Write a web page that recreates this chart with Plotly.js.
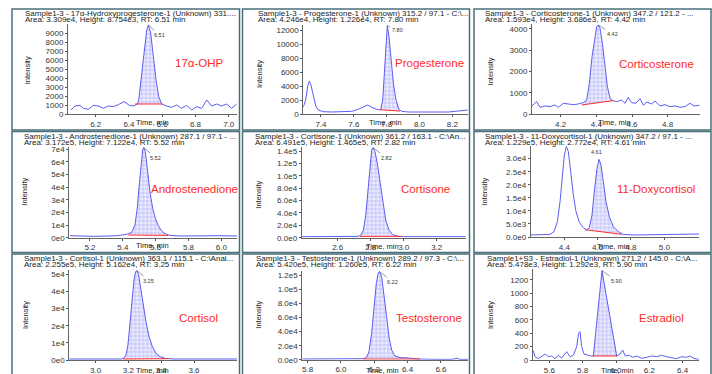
<!DOCTYPE html>
<html><head><meta charset="utf-8">
<script src="https://cdn.plot.ly/plotly-3.0.1.min.js"></script>
<style>html,body{margin:0;padding:0;background:#fff}#chart{width:712px;height:374px}</style>
</head><body><div id="chart"></div>
<script>
// ---------- DATA ----------
const ohpX = [6.050,6.076,6.106,6.126,6.156,6.186,6.216,6.246,6.276,6.306,6.336,6.370,6.403,6.427,6.451,6.459,6.477,6.493,6.507,6.517,6.531,6.547,6.563,6.579,6.597,6.627,6.657,6.687,6.717,6.747,6.777,6.808,6.838,6.868,6.898,6.928,6.958,6.988,7.018,7.048];
const ohpY = [444,890,963,630,520,963,890,630,890,815,1037,1370,963,890,1110,1556,4519,7481,9333,9889,8963,6370,3778,1926,1111,889,741,1000,630,963,444,815,630,1556,889,1111,889,1111,630,1111];
const ohpBase = [6.437,1111,6.601,1111];

const progX = [7.292,7.307,7.319,7.329,7.339,7.353,7.368,7.384,7.414,7.465,7.526,7.587,7.627,7.658,7.684,7.709,7.739,7.763,7.776,7.786,7.796,7.804,7.814,7.826,7.841,7.857,7.875,7.891,7.932,8.013,8.094,8.176,8.237,8.277,8.293];
const progY = [960,2016,3936,4752,4176,2496,1152,576,336,288,288,384,672,1056,1296,960,672,576,2016,5856,10176,12720,11136,7776,4416,2016,672,384,288,288,240,288,432,576,576];
const progBase = [7.760,620,7.881,420];

const corticoX = [4.039,4.065,4.084,4.112,4.140,4.168,4.187,4.215,4.243,4.271,4.299,4.327,4.346,4.361,4.376,4.391,4.402,4.411,4.421,4.434,4.449,4.462,4.477,4.492,4.514,4.542,4.561,4.579,4.598,4.622,4.645,4.664,4.682,4.710,4.729,4.757,4.785,4.813,4.841,4.869,4.897,4.925,4.948,4.978];
const corticoY = [391,594,328,391,359,438,328,516,484,453,484,547,672,1453,2703,3641,4109,4188,4031,3328,2234,1297,750,641,594,672,516,797,547,516,734,422,578,484,625,391,453,359,391,328,359,516,391,422];
const corticoBase = [4.318,438,4.495,641];

const androX = [5.078,5.139,5.220,5.302,5.362,5.423,5.454,5.474,5.488,5.500,5.511,5.521,5.527,5.537,5.549,5.565,5.582,5.598,5.616,5.637,5.657,5.687,5.748,5.829,5.911,5.992,6.095];
const androY = [1584,1320,1056,1320,1584,2640,4224,10032,23232,41712,60192,69432,71280,68112,54912,36432,23232,15312,9504,5280,3168,1848,1320,1584,1320,1584,1320];
const androBase = [5.433,2112,5.677,1848];

const cortisoneX = [2.382,2.483,2.584,2.685,2.725,2.741,2.756,2.770,2.782,2.794,2.806,2.814,2.826,2.840,2.857,2.873,2.891,2.911,2.931,2.958,2.988,3.089,3.190,3.291,3.376];
const cortisoneY = [1615,1615,1615,1615,2154,4308,12386,36618,74313,117393,141626,145395,138934,120086,87776,55466,28541,12386,5385,2693,1615,1615,1615,1077,1615];
const cortisoneBase = [2.735,2154,2.988,2154];

const deoxyX = [4.198,4.274,4.314,4.338,4.358,4.374,4.388,4.400,4.412,4.424,4.438,4.454,4.470,4.490,4.514,4.534,4.550,4.566,4.582,4.596,4.608,4.620,4.634,4.650,4.670,4.694,4.724,4.754,4.814,4.934,5.074,5.210];
const deoxyY = [766,766,1021,2042,5870,13526,23734,31390,34580,32666,25010,16078,9698,5614,3573,2680,3573,8422,18630,26286,29731,27562,21182,13526,7784,3956,2042,1021,766,766,1021,1148];
const deoxyBase = [4.524,2807,4.744,1021];

const cortisolX = [2.839,2.925,3.006,3.067,3.118,3.159,3.173,3.185,3.197,3.209,3.222,3.234,3.244,3.252,3.262,3.275,3.291,3.307,3.325,3.346,3.368,3.393,3.423,3.474,3.555,3.677,3.759,3.862];
const cortisolY = [584,584,389,778,584,584,1167,2918,8753,21395,35010,46680,51543,52126,49598,42790,32093,22368,14004,7780,3890,1945,973,584,584,389,584,584];
const cortisolBase = [3.169,584,3.444,778];

const testoX = [5.768,5.864,5.964,6.064,6.134,6.154,6.168,6.184,6.198,6.212,6.224,6.232,6.244,6.258,6.274,6.288,6.304,6.324,6.354,6.384,6.424,6.464,6.564,6.664,6.700,6.714,6.764];
const testoY = [952,952,952,952,1428,3332,11424,37604,75684,109004,124236,125664,118524,94724,61404,32844,13804,5236,2856,2856,1904,952,476,476,1904,476,476];
const testoBase = [6.134,952,6.474,952];

const e2X = [5.504,5.514,5.534,5.554,5.574,5.594,5.614,5.634,5.654,5.674,5.704,5.724,5.744,5.764,5.776,5.784,5.794,5.808,5.828,5.848,5.864,5.916,6.004,6.024,6.040,6.056,6.080,6.100,6.124,6.154,6.184,6.214,6.244,6.274,6.304,6.334,6.364,6.394,6.424,6.444,6.468,6.496];
const e2Y = [140,50,20,50,90,50,60,20,70,30,125,50,70,200,400,425,200,90,75,60,60,1340,60,90,150,60,70,40,60,25,40,60,50,70,50,40,20,50,40,60,25,10];
const e2Base = [5.860,60,6.008,60];

const names = ["17α-OHP","Progesterone","Corticosterone","Androstenedione","Cortisone","11-Doxycortisol","Cortisol","Testosterone","Estradiol"];
const headerLine1 = [
  "Sample1-3 - 17α-Hydroxyprogesterone-1 (Unknown) 331....",
  "Sample1-3 - Progesterone-1 (Unknown) 315.2 / 97.1 - C:\\...",
  "Sample1-3 - Corticosterone-1 (Unknown) 347.2 / 121.2 - ...",
  "Sample1-3 - Androstenedione-1 (Unknown) 287.1 / 97.1 - ...",
  "Sample1-3 - Cortisone-1 (Unknown) 361.2 / 163.1 - C:\\An...",
  "Sample1-3 - 11-Doxycortisol-1 (Unknown) 347.2 / 97.1 - ...",
  "Sample1-3 - Cortisol-1 (Unknown) 363.1 / 115.1 - C:\\Anal...",
  "Sample1-3 - Testosterone-1 (Unknown) 289.2 / 97.3 - C:\\...",
  "Sample1+S3 - Estradiol-1 (Unknown) 271.2 / 145.0 - C:\\A..."
];
const headerLine2 = [
  "Area: 3.309e4, Height: 8.754e3, RT: 6.51 min",
  "Area: 4.246e4, Height: 1.226e4, RT: 7.80 min",
  "Area: 1.593e4, Height: 3.686e3, RT: 4.42 min",
  "Area: 3.172e5, Height: 7.122e4, RT: 5.52 min",
  "Area: 6.491e5, Height: 1.465e5, RT: 2.82 min",
  "Area: 1.229e5, Height: 2.772e4, RT: 4.61 min",
  "Area: 2.255e5, Height: 5.162e4, RT: 3.25 min",
  "Area: 5.420e5, Height: 1.260e5, RT: 6.22 min",
  "Area: 5.478e3, Height: 1.292e3, RT: 5.90 min"
];
const rtLabels = ["6.51","7.80","4.42","5.52","2.82","4.61","3.25","6.22","5.90"];
const xTickVals = [
  [6.2,6.4,6.6,6.8,7.0],[7.4,7.6,7.8,8.0,8.2],[4.2,4.4,4.6,4.8],
  [5.2,5.4,5.6,5.8,6.0],[2.6,2.8,3.0,3.2],[4.4,4.6,4.8,5.0],
  [3.0,3.2,3.4,3.6],[5.8,6.0,6.2,6.4,6.6],[5.6,5.8,6.0,6.2,6.4]
];
const yTickVals = [
  [0,1000,2000,3000,4000,5000,6000,7000,8000,9000],
  [0,2000,4000,6000,8000,10000,12000],
  [0,1000,2000,3000,4000],
  [0,1e4,2e4,3e4,4e4,5e4,6e4,7e4],
  [0,2e4,4e4,6e4,8e4,1e5,1.2e5,1.4e5],
  [0,5e3,1e4,1.5e4,2e4,2.5e4,3e4],
  [0,1e4,2e4,3e4,4e4,5e4],
  [0,2e4,4e4,6e4,8e4,1e5,1.2e5],
  [0,200,400,600,800,1000,1200]
];
const yTickText = [
  ["0","1000","2000","3000","4000","5000","6000","7000","8000","9000"],
  ["0","2000","4000","6000","8000","10000","12000"],
  ["0","1000","2000","3000","4000"],
  ["0e0","1e4","2e4","3e4","4e4","5e4","6e4","7e4"],
  ["0.0e0","2.0e4","4.0e4","6.0e4","8.0e4","1.0e5","1.2e5","1.4e5"],
  ["0.0e0","5.0e3","1.0e4","1.5e4","2.0e4","2.5e4","3.0e4"],
  ["0e0","1e4","2e4","3e4","4e4","5e4"],
  ["0.0e0","2.0e4","4.0e4","6.0e4","8.0e4","1.0e5","1.2e5"],
  ["0","200","400","600","800","1000","1200"]
];
const seriesX = [ohpX,progX,corticoX,androX,cortisoneX,deoxyX,cortisolX,testoX,e2X];
const seriesY = [ohpY,progY,corticoY,androY,cortisoneY,deoxyY,cortisolY,testoY,e2Y];
const baselines = [ohpBase,progBase,corticoBase,androBase,cortisoneBase,deoxyBase,cortisolBase,testoBase,e2Base];

// ---------- LAYOUT GEOMETRY (pixels) ----------
const W = 712, H = 374;
const G = [
 {plot:[68,237,24,114], xr:[6.0334,7.050], ytop:10000, box:[12,239.5,9,130], hd:[23,13.5], it:[28.3,70], tm:[152,122.7], nm:[199.5,63], rt:[11,10]},
 {plot:[303.3,467.7,25,114], xr:[7.2924,8.2934], ytop:12816, box:[242.5,469.5,9,130], hd:[255.5,13.5], it:[259,74], tm:[385,122.7], nm:[429.5,63], rt:[10,4]},
 {plot:[532,700,24,114.3], xr:[4.0393,4.9813], ytop:4234, box:[474,711,9,130], hd:[483.3,13.5], it:[490.7,71.7], tm:[614,122.7], nm:[656.7,64], rt:[14,9]},
 {plot:[69.3,237,147,237.7], xr:[5.0741,6.0954], ytop:71808, box:[12,239.5,131.5,252.5], hd:[21.7,136], it:[25,191.7], tm:[152,245.7], nm:[194.3,189], rt:[12,10]},
 {plot:[301.7,465.7,147,237.7], xr:[2.3818,3.3758], ytop:146472, box:[242.5,469.5,131.5,252.5], hd:[253.3,136], it:[257.7,195], tm:[383,246.5], nm:[425.3,189], rt:[13,10]},
 {plot:[530.7,699.3,145.7,237], xr:[4.198,5.21], ytop:34962, box:[474,711,131.5,252.5], hd:[483.3,136], it:[485,191.7], tm:[613.7,246.5], nm:[656,189], rt:[-3,-7]},
 {plot:[69.3,237,270,360], xr:[2.8393,3.8623], ytop:52515, box:[12,239.5,254,378], hd:[21.7,258.5], it:[25,315], tm:[152.5,370.7], nm:[198,318], rt:[12,10]},
 {plot:[302.3,468.3,271,359.7], xr:[5.768,6.764], ytop:126616, box:[242.5,469.5,254,378], hd:[254.3,258.5], it:[257.7,315], tm:[383,370.7], nm:[429,318], rt:[13,10]},
 {plot:[532.7,699.3,269.3,360], xr:[5.5,6.5], ytop:1360, box:[474,711,254,378], hd:[485,258.5], it:[490,315], tm:[617.8,370.7], nm:[661,318], rt:[14,10]}
];
const px = v => v / W, py = v => 1 - v / H;
const FONT = "Liberation Sans, Arial, sans-serif";
const BLUE = "#5c5cf2", RED = "#ff2a2a";

const traces = [], annotations = [], shapes = [];
const layout = {
  width: W, height: H, margin: {l:0,r:0,t:0,b:0},
  paper_bgcolor: "#fff", plot_bgcolor: "#fff", showlegend: false,
  font: {family: FONT, color: "#333"}
};

G.forEach((g, i) => {
  const n = i + 1, sx = n === 1 ? "" : String(n);
  const xa = "x" + sx, ya = "y" + sx;
  const X = seriesX[i], Y = seriesY[i], b = baselines[i];

  // integrated peak polygon (from data points between baseline ends)
  const fx = [b[0]], fy = [b[1]];
  let apexI = -1;
  X.forEach((v, k) => {
    if (v > b[0] && v < b[2]) {
      fx.push(v); fy.push(Y[k]);
      if (apexI < 0 || Y[k] > Y[apexI]) apexI = k;
    }
  });
  fx.push(b[2]); fy.push(b[3]);
  traces.push({x: fx, y: fy, xaxis: xa, yaxis: ya, type: "scatter", mode: "lines",
    fill: "toself", line: {width: 0}, fillcolor: "rgba(215,215,250,0.9)",
    fillpattern: {shape: "+", size: 4, solidity: 0.2, fgcolor: "#9797f6", bgcolor: "#ececfe"},
    hoverinfo: "skip"});
  traces.push({x: X, y: Y, xaxis: xa, yaxis: ya, type: "scatter", mode: "lines",
    line: {color: BLUE, width: 1}, hoverinfo: "skip"});
  traces.push({x: [b[0], b[2]], y: [b[1], b[3]], xaxis: xa, yaxis: ya, type: "scatter",
    mode: "lines", line: {color: RED, width: 1}, hoverinfo: "skip"});

  const axCommon = {showgrid: false, zeroline: false, showline: true, linecolor: "#666", linewidth: 1,
    ticks: "outside", ticklen: 2, tickwidth: 1, tickcolor: "#555",
    tickfont: {family: FONT, size: 8, color: "#333"}, fixedrange: true};
  layout["xaxis" + sx] = Object.assign({}, axCommon, {
    domain: [px(g.plot[0]), px(g.plot[1])], range: g.xr, anchor: ya,
    tickmode: "array", tickvals: xTickVals[i], ticktext: xTickVals[i].map(v => v.toFixed(1))});
  layout["yaxis" + sx] = Object.assign({}, axCommon, {
    domain: [py(g.plot[3]), py(g.plot[2])], range: [0, g.ytop], anchor: xa,
    tickmode: "array", tickvals: yTickVals[i], ticktext: yTickText[i]});

  shapes.push({type: "rect", xref: "paper", yref: "paper",
    x0: px(g.box[0]), x1: px(g.box[1]), y0: py(g.box[3]), y1: py(g.box[2]),
    line: {color: "#4a6f7b", width: 1.5}, layer: "above"});

  // header lines (tightly stacked, as in the reference)
  annotations.push({xref: "paper", yref: "paper", x: px(g.hd[0]), y: py(g.hd[1] + 6.3),
    xanchor: "left", yanchor: "middle", text: headerLine2[i], showarrow: false,
    font: {family: FONT, size: 8, color: "#222"}});
  annotations.push({xref: "paper", yref: "paper", x: px(g.hd[0]), y: py(g.hd[1]),
    xanchor: "left", yanchor: "middle", text: headerLine1[i], showarrow: false,
    font: {family: FONT, size: 8, color: "#222"}});
  // axis titles
  annotations.push({xref: "paper", yref: "paper", x: px(g.it[0]), y: py(g.it[1]),
    xanchor: "center", yanchor: "middle", text: "Intensity", textangle: -90, showarrow: false,
    font: {family: FONT, size: 7.5, color: "#222"}});
  annotations.push({xref: "paper", yref: "paper", x: px(g.tm[0]), y: py(g.tm[1]),
    xanchor: "center", yanchor: "middle", text: "Time, min", showarrow: false,
    font: {family: FONT, size: 7.5, color: "#222"}});
  // compound name
  annotations.push({xref: "paper", yref: "paper", x: px(g.nm[0]), y: py(g.nm[1]),
    xanchor: "center", yanchor: "middle", text: names[i], showarrow: false,
    font: {family: FONT, size: 11.5, color: RED}});
  // retention-time label at apex
  const arrow = !(g.rt[0] < 0);
  annotations.push({xref: xa, yref: ya, x: X[apexI], y: Y[apexI], text: rtLabels[i],
    showarrow: arrow, arrowhead: 0, arrowwidth: 0.6, arrowcolor: "#555", standoff: 0,
    ax: g.rt[0], ay: g.rt[1], xshift: arrow ? 0 : g.rt[0], yshift: arrow ? 0 : -g.rt[1],
    font: {family: FONT, size: 5.5, color: "#333"}});
});

layout.annotations = annotations;
layout.shapes = shapes;
Plotly.newPlot("chart", traces, layout, {staticPlot: true, displayModeBar: false});
</script>
</body></html>
